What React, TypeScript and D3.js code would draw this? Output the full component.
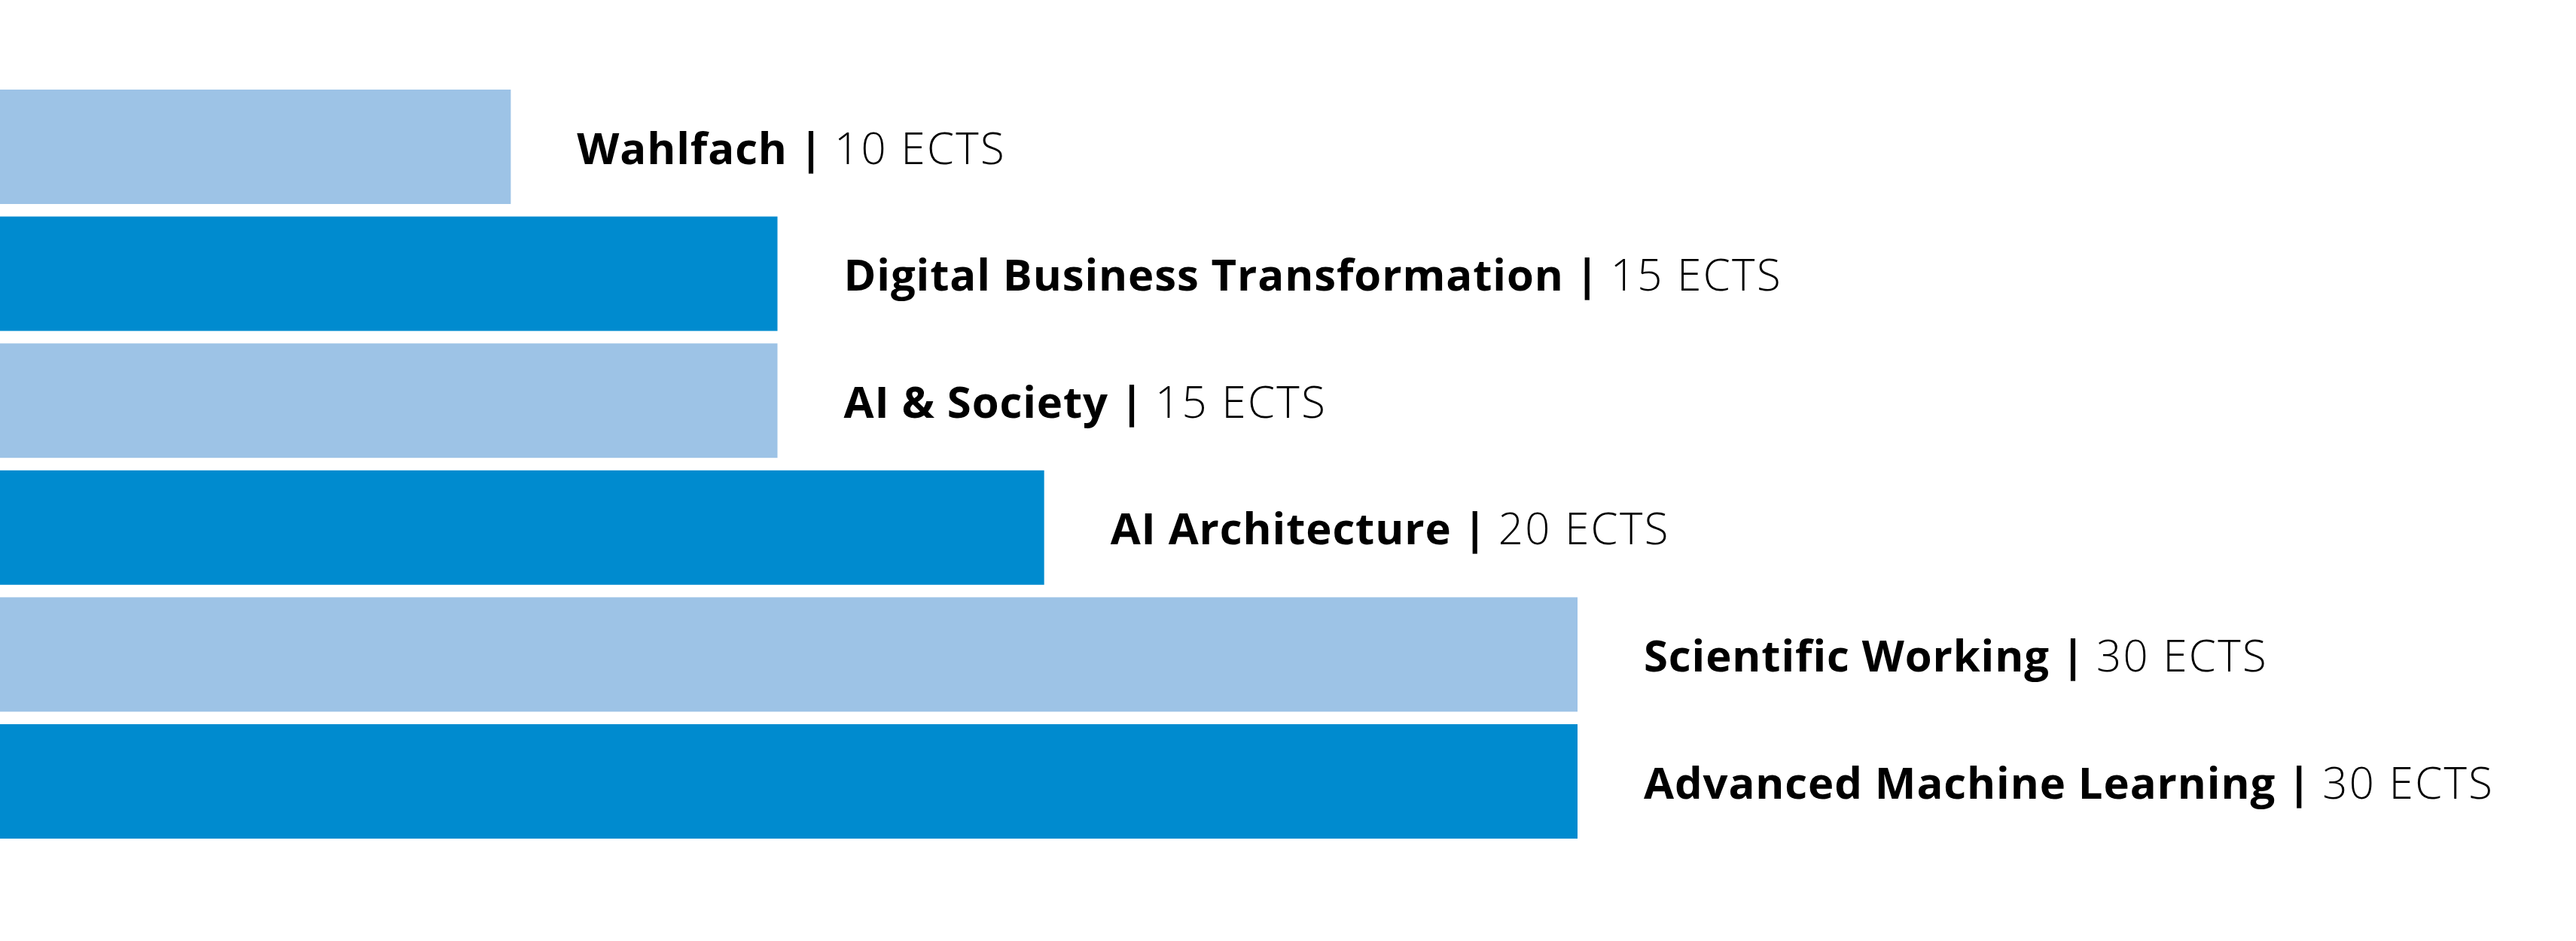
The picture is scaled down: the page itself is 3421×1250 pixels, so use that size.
import React from "react";
import * as d3 from "d3";

const categories = [
  "Wahlfach",
  "Digital Business Transformation",
  "AI & Society",
  "AI Architecture",
  "Scientific Working",
  "Advanced Machine Learning",
];
const ects = [10, 15, 15, 20, 30, 30];
const unitLabel = "ECTS";
const barColors = ["#9DC3E6", "#008BCF", "#9DC3E6", "#008BCF", "#9DC3E6", "#008BCF"];

const W = 3421;
const H = 1250;
const FONT = 58;

export default function App() {
  const x = d3.scaleLinear().domain([0, 30]).range([-30, 2095]);
  const y = d3
    .scaleBand<string>()
    .domain(categories)
    .range([119, 1114])
    .paddingInner(0.0985)
    .paddingOuter(0);

  return (
    <>
      <style>{`body{margin:0}`}</style>
      <svg width={W} height={H} style={{ display: "block", background: "#fff" }}>
        {categories.map((c, i) => {
          const y0 = y(c)!;
          const bh = y.bandwidth();
          const cy = y0 + bh / 2;
          return (
            <g key={c}>
              <rect x={0} y={y0} width={x(ects[i])} height={bh} fill={barColors[i]} />
              <text
                x={x(ects[i]) + 88}
                y={cy + FONT * 0.39}
                fontFamily="'Open Sans', 'Noto Sans', sans-serif"
                fontSize={FONT}
                fill="#000"
              >
                <tspan fontWeight={700} letterSpacing={0.9}>{c}</tspan>
                <tspan fontWeight={700}>{" | "}</tspan>
                <tspan fontWeight={300} letterSpacing={2.4}>{`${ects[i]} ${unitLabel}`}</tspan>
              </text>
            </g>
          );
        })}
      </svg>
    </>
  );
}
